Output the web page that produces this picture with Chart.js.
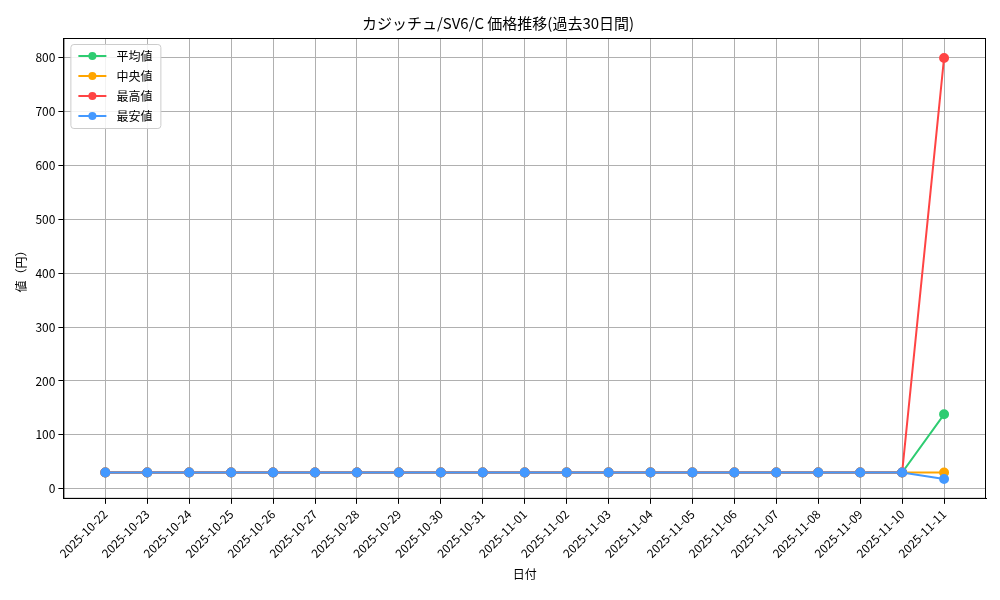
<!DOCTYPE html>
<html>
<head>
<meta charset="utf-8">
<script src="https://cdn.jsdelivr.net/npm/chart.js@4"></script>
<style>
  html, body { margin: 0; padding: 0; background: #fff; }
  #wrap { width: 1000px; height: 600px; }
</style>
</head>
<body>
<div id="wrap"><canvas id="c" width="1000" height="600"></canvas></div>
<script>
const FONTE = "'Noto Sans CJK JP', 'DejaVu Sans', sans-serif";

const datas = ['2025-10-22', '2025-10-23', '2025-10-24', '2025-10-25', '2025-10-26', '2025-10-27',
    '2025-10-28', '2025-10-29', '2025-10-30', '2025-10-31', '2025-11-01', '2025-11-02', '2025-11-03',
    '2025-11-04', '2025-11-05', '2025-11-06', '2025-11-07', '2025-11-08', '2025-11-09', '2025-11-10',
    '2025-11-11'];
const media = [30, 30, 30, 30, 30, 30, 30, 30, 30, 30, 30, 30, 30, 30, 30, 30, 30, 30, 30, 30, 138];
const mediana = [30, 30, 30, 30, 30, 30, 30, 30, 30, 30, 30, 30, 30, 30, 30, 30, 30, 30, 30, 30, 30];
const maximo = [30, 30, 30, 30, 30, 30, 30, 30, 30, 30, 30, 30, 30, 30, 30, 30, 30, 30, 30, 30, 800];
const minimo = [30, 30, 30, 30, 30, 30, 30, 30, 30, 30, 30, 30, 30, 30, 30, 30, 30, 30, 30, 30, 18];
const yTicks = [0, 100, 200, 300, 400, 500, 600, 700, 800];

const series = [
    { label: '平均値', data: media, cor: '#2ecc71' },
    { label: '中央値', data: mediana, cor: '#ffa500' },
    { label: '最高値', data: maximo, cor: '#ff4444' },
    { label: '最安値', data: minimo, cor: '#4499ff' }
];

const moldura = {
    id: 'moldura',
    afterDatasetsDraw(chart) {
        const { ctx, chartArea: a } = chart;
        ctx.save();
        ctx.strokeStyle = '#000';
        ctx.lineWidth = 1;
        ctx.strokeRect(a.left + 0.5, a.top + 0.5, a.right - a.left - 1, a.bottom - a.top - 1);
        ctx.restore();
    }
};

const legendaInterna = {
    id: 'legendaInterna',
    afterDraw(chart) {
        const { ctx, chartArea } = chart;
        const x0 = chartArea.left + 7, y0 = chartArea.top + 6;
        ctx.save();
        ctx.fillStyle = 'rgba(255,255,255,0.85)';
        ctx.strokeStyle = '#cccccc';
        ctx.lineWidth = 1;
        ctx.beginPath();
        ctx.roundRect(x0 + 0.5, y0 + 0.5, 90, 84, 3);
        ctx.fill();
        ctx.stroke();
        ctx.font = '12px ' + FONTE;
        ctx.textBaseline = 'middle';
        series.forEach((s, i) => {
            const y = y0 + 12 + i * 20;
            ctx.strokeStyle = s.cor;
            ctx.lineWidth = 2;
            ctx.beginPath();
            ctx.moveTo(x0 + 8, y);
            ctx.lineTo(x0 + 36, y);
            ctx.stroke();
            ctx.fillStyle = s.cor;
            ctx.beginPath();
            ctx.arc(x0 + 22, y, 4, 0, Math.PI * 2);
            ctx.fill();
            ctx.fillStyle = '#000';
            ctx.fillText(s.label, x0 + 46, y);
        });
        ctx.restore();
    }
};

new Chart(document.getElementById('c'), {
    type: 'line',
    data: {
        datasets: series.map((s, i) => ({
            label: s.label,
            data: s.data.map((v, j) => ({ x: j, y: v })),
            borderColor: s.cor,
            backgroundColor: s.cor,
            borderWidth: 2,
            pointRadius: 4,
            pointHoverRadius: 4,
            tension: 0,
            order: series.length - i
        }))
    },
    options: {
        responsive: false,
        animation: false,
        layout: { padding: { left: 10, right: 14, top: 6, bottom: 14 } },
        plugins: {
            legend: { display: false },
            tooltip: { enabled: false },
            title: {
                display: true,
                text: 'カジッチュ/SV6/C 価格推移(過去30日間)',
                color: '#000',
                font: { family: FONTE, size: 15, weight: 'normal' },
                padding: { top: 8, bottom: 6 }
            }
        },
        scales: {
            x: {
                type: 'linear',
                min: -1,
                max: datas.length,
                afterBuildTicks(axis) {
                    axis.ticks = datas.map((_, i) => ({ value: i }));
                },
                ticks: {
                    autoSkip: false,
                    maxRotation: 45,
                    minRotation: 45,
                    color: '#000',
                    font: { family: FONTE, size: 12 },
                    callback: v => datas[v] || ''
                },
                grid: { color: '#b0b0b0', drawTicks: true, tickLength: 5, tickColor: '#000' },
                border: { color: '#000' },
                title: { display: true, text: '日付', color: '#000', font: { family: FONTE, size: 12 } }
            },
            y: {
                min: -19,
                max: 837,
                afterBuildTicks(axis) {
                    axis.ticks = yTicks.map(v => ({ value: v }));
                },
                ticks: { color: '#000', font: { family: FONTE, size: 12 } },
                grid: { color: '#b0b0b0', tickLength: 5, tickColor: '#000' },
                border: { color: '#000' },
                title: { display: true, text: '値（円）', color: '#000', font: { family: FONTE, size: 12 } }
            }
        }
    },
    plugins: [moldura, legendaInterna]
});
</script>
</body>
</html>
